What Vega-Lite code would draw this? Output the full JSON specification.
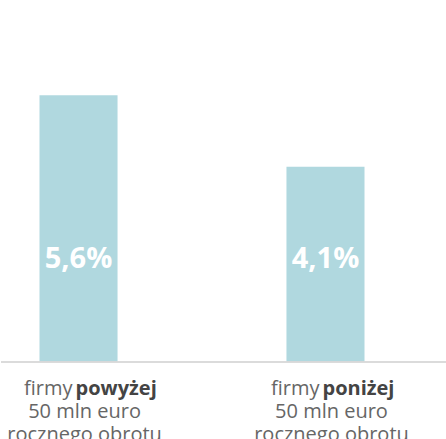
{
  "$schema": "https://vega.github.io/schema/vega-lite/v6.json",
  "width": 446,
  "height": 362,
  "padding": 0,
  "autosize": {"type": "pad"},
  "background": "white",
  "config": {
    "view": {"stroke": null},
    "font": "Open Sans",
    "locale": {"number": {"decimal": ",", "thousands": " ", "grouping": [3], "currency": ["", " zł"]}}
  },
  "data": {
    "values": [
      {"cat": "A", "value": 0.056, "word": "firmy", "bold": "powyżej", "line2": "50 mln euro", "line3": "rocznego obrotu"},
      {"cat": "B", "value": 0.041, "word": "firmy", "bold": "poniżej", "line2": "50 mln euro", "line3": "rocznego obrotu"}
    ]
  },
  "layer": [
    {
      "mark": {"type": "bar", "color": "#B0D8DF"},
      "encoding": {
        "x": {"field": "cat", "type": "nominal", "axis": null, "scale": {"range": [38.5, 363.5], "paddingInner": 0.684, "paddingOuter": 0}},
        "y": {"field": "value", "type": "quantitative", "axis": null, "scale": {"domain": [0, 0.076], "nice": false, "zero": true}}
      }
    },
    {
      "mark": {"type": "rule", "color": "#d9d9d9", "strokeWidth": 1.6},
      "encoding": {"y": {"datum": 0}}
    },
    {
      "mark": {"type": "text", "color": "white", "fontSize": 29, "fontWeight": "bold", "baseline": "alphabetic", "align": "center", "dy": -94},
      "encoding": {
        "x": {"field": "cat", "type": "nominal"},
        "y": {"datum": 0},
        "text": {"field": "value", "type": "quantitative", "format": ".1%"}
      }
    },
    {
      "mark": {"type": "text", "color": "#666666", "fontSize": 20, "baseline": "alphabetic", "align": "right", "dx": -6, "dy": 33},
      "encoding": {
        "x": {"field": "cat", "type": "nominal"},
        "y": {"datum": 0},
        "text": {"field": "word"}
      }
    },
    {
      "mark": {"type": "text", "color": "#444444", "fontSize": 20, "fontWeight": "bold", "baseline": "alphabetic", "align": "left", "dx": -3, "dy": 33},
      "encoding": {
        "x": {"field": "cat", "type": "nominal"},
        "y": {"datum": 0},
        "text": {"field": "bold"}
      }
    },
    {
      "mark": {"type": "text", "color": "#666666", "fontSize": 20, "baseline": "alphabetic", "align": "center", "dx": 6, "dy": 56},
      "encoding": {
        "x": {"field": "cat", "type": "nominal"},
        "y": {"datum": 0},
        "text": {"field": "line2"}
      }
    },
    {
      "mark": {"type": "text", "color": "#666666", "fontSize": 20, "baseline": "alphabetic", "align": "center", "dx": 6, "dy": 79},
      "encoding": {
        "x": {"field": "cat", "type": "nominal"},
        "y": {"datum": 0},
        "text": {"field": "line3"}
      }
    }
  ]
}
